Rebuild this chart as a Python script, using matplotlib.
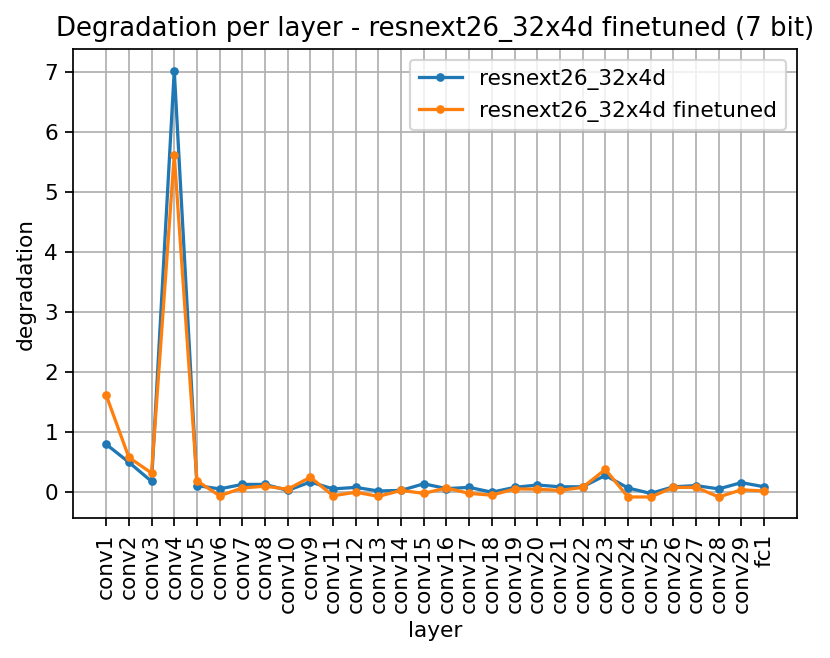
import matplotlib
matplotlib.use('Agg')
import matplotlib.pyplot as plt

layers = ['conv1', 'conv2', 'conv3', 'conv4', 'conv5', 'conv6', 'conv7', 'conv8',
          'conv10', 'conv9', 'conv11', 'conv12', 'conv13', 'conv14', 'conv15',
          'conv16', 'conv17', 'conv18', 'conv19', 'conv20', 'conv21', 'conv22',
          'conv23', 'conv24', 'conv25', 'conv26', 'conv27', 'conv28', 'conv29', 'fc1']

# degradation, original model
base = [0.79, 0.49, 0.17, 7.03, 0.10, 0.045, 0.12, 0.12, 0.02, 0.16,
        0.045, 0.07, 0.01, 0.02, 0.13, 0.05, 0.07, -0.01, 0.07, 0.11,
        0.08, 0.08, 0.27, 0.06, -0.03, 0.08, 0.10, 0.045, 0.15, 0.08]
# degradation, finetuned model
tuned = [1.61, 0.57, 0.31, 5.62, 0.18, -0.07, 0.06, 0.09, 0.04, 0.24,
         -0.07, -0.01, -0.08, 0.02, -0.03, 0.06, -0.03, -0.06, 0.045, 0.04,
         0.02, 0.07, 0.37, -0.09, -0.09, 0.07, 0.07, -0.09, 0.03, 0.01]

dpi = 156
fig = plt.figure(figsize=(830/dpi, 658/dpi), dpi=dpi)
ax = fig.add_axes([73.3/830, 1-518.3/658, (797-73.3)/830, (518.3-49.3)/658])

ax.plot(layers, base, '.-', label='resnext26_32x4d')
ax.plot(layers, tuned, '.-', label='resnext26_32x4d finetuned')
ax.set_title('Degradation per layer - resnext26_32x4d finetuned (7 bit)')
ax.set_xlabel('layer')
ax.set_ylabel('degradation')
ax.tick_params(axis='x', rotation=90)
ax.grid(True)
ax.legend()

fig.savefig('out.png', dpi=dpi)
